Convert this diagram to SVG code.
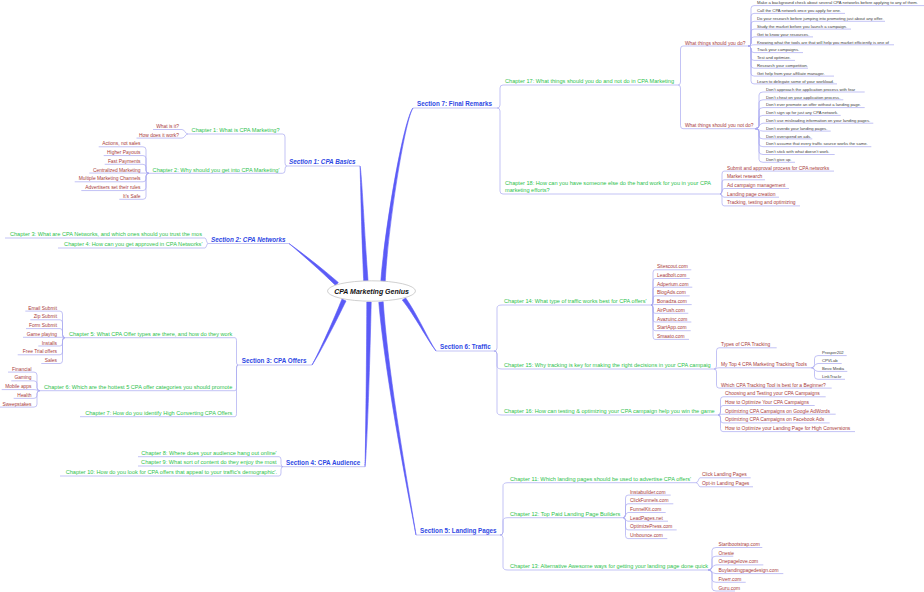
<svg xmlns="http://www.w3.org/2000/svg" width="924" height="592" viewBox="0 0 924 592">
<style>
.u{stroke:#a9a9f0;stroke-width:0.7;fill:none}
.c{stroke:#a9a9f0;stroke-width:0.7;fill:none}
.br{fill:#5b5bf7;stroke:#5b5bf7;stroke-width:0.6}
text{font-family:"Liberation Sans",Arial,sans-serif}
.sec{font-size:6.3px;font-weight:bold;fill:#2f48e4}
.it{font-style:italic}
.ch{font-size:5.6px;fill:#2cbf4c}
.lf{font-size:4.9px;fill:#a83a3a}
.gr{font-size:4.2px;fill:#3c3c3c}
.e{text-anchor:end}
.ctr{font-size:7px;font-weight:bold;font-style:italic;fill:#111;text-anchor:middle}
</style>
<rect width="924" height="592" fill="#fff"/>
<g id="connectors">
<g id="main-branches">
<path class="br" d="M368.2,283 C364.5,235 361.6,171 360,166 C360.4,171 361.5,235 363.8,283 Z"/>
<path class="br" d="M385.2,282.4 C387.5,230.3 404.6,120.1 413,108 C403.4,119.9 384.5,229.7 380.8,281.6 Z"/>
<path class="br" d="M338.3,282.5 C322.9,268.9 300.3,251.6 289,243.5 C299.7,252.4 321.1,271.1 335.7,285.5 Z"/>
<path class="br" d="M342,299 C334.7,317.3 319.5,351.7 312,365 C320.5,352.3 337.3,318.7 346,301 Z"/>
<path class="br" d="M366.8,302 C366.5,380 365.4,455 365,466.7 C366.6,455 369.5,380 371.2,302 Z"/>
<path class="br" d="M378.8,302.3 C385.5,380.2 409.4,500.1 416,535 C410.6,499.9 388.5,379.8 383.2,301.7 Z"/>
<path class="br" d="M402.3,300 C414.8,315.7 427.6,340.3 436,351 C428.4,339.7 417.2,314.3 405.7,298 Z"/>
</g>
<g id="sub-links">
<path class="c" d="M497,108Q500,108 500,105V88Q500,85 503,85"/>
<path class="c" d="M497,108Q500,108 500,111V191Q500,194 503,194"/>
<path class="c" d="M678,85Q680.5,85 680.5,82V49Q680.5,46 683,46"/>
<path class="c" d="M678,85Q680.5,85 680.5,88V125.7Q680.5,128.7 683,128.7"/>
<path class="c" d="M748,46Q751,46 751,43V8.6Q751,5.6 754,5.6"/>
<path class="c" d="M748,46Q751,46 751,43V16.4Q751,13.4 754,13.4"/>
<path class="c" d="M748,46Q751,46 751,43V24.3Q751,21.3 754,21.3"/>
<path class="c" d="M748,46Q751,46 751,43V32.1Q751,29.1 754,29.1"/>
<path class="c" d="M748,46Q751,46 751,43V39.9Q751,36.9 754,36.9"/>
<path class="c" d="M748,46C751,46 751,44.8 754,44.8"/>
<path class="c" d="M748,46Q751,46 751,49V49.6Q751,52.6 754,52.6"/>
<path class="c" d="M748,46Q751,46 751,49V57.4Q751,60.4 754,60.4"/>
<path class="c" d="M748,46Q751,46 751,49V65.2Q751,68.2 754,68.2"/>
<path class="c" d="M748,46Q751,46 751,49V73.1Q751,76.1 754,76.1"/>
<path class="c" d="M748,46Q751,46 751,49V80.9Q751,83.9 754,83.9"/>
<path class="c" d="M755,128.7Q759,128.7 759,125.7V95Q759,92 763,92"/>
<path class="c" d="M755,128.7Q759,128.7 759,125.7V102.8Q759,99.8 763,99.8"/>
<path class="c" d="M755,128.7Q759,128.7 759,125.7V110.6Q759,107.6 763,107.6"/>
<path class="c" d="M755,128.7Q759,128.7 759,125.7V118.4Q759,115.4 763,115.4"/>
<path class="c" d="M755,128.7C759,128.7 759,123.2 763,123.2"/>
<path class="c" d="M755,128.7C759,128.7 759,131.1 763,131.1"/>
<path class="c" d="M755,128.7Q759,128.7 759,131.7V135.9Q759,138.9 763,138.9"/>
<path class="c" d="M755,128.7Q759,128.7 759,131.7V143.7Q759,146.7 763,146.7"/>
<path class="c" d="M755,128.7Q759,128.7 759,131.7V151.5Q759,154.5 763,154.5"/>
<path class="c" d="M755,128.7Q759,128.7 759,131.7V159.3Q759,162.3 763,162.3"/>
<path class="c" d="M720,194Q722,194 722,191V174.1Q722,171.1 724,171.1"/>
<path class="c" d="M720,194Q722,194 722,191V182.8Q722,179.8 724,179.8"/>
<path class="c" d="M720,194C722,194 722,188.5 724,188.5"/>
<path class="c" d="M720,194C722,194 722,197.2 724,197.2"/>
<path class="c" d="M720,194Q722,194 722,197V202.9Q722,205.9 724,205.9"/>
<path class="c" d="M494,351Q497,351 497,348V308Q497,305 502,305"/>
<path class="c" d="M494,351Q497,351 497,354V366Q497,369 502,369"/>
<path class="c" d="M494,351Q497,351 497,354V412Q497,415 502,415"/>
<path class="c" d="M651,305Q653,305 653,302V272.8Q653,269.8 655,269.8"/>
<path class="c" d="M651,305Q653,305 653,302V281.5Q653,278.5 655,278.5"/>
<path class="c" d="M651,305Q653,305 653,302V290.2Q653,287.2 655,287.2"/>
<path class="c" d="M651,305Q653,305 653,302V298.9Q653,295.9 655,295.9"/>
<path class="c" d="M651,305C653,305 653,304.6 655,304.6"/>
<path class="c" d="M651,305Q653,305 653,308V310.3Q653,313.3 655,313.3"/>
<path class="c" d="M651,305Q653,305 653,308V319Q653,322 655,322"/>
<path class="c" d="M651,305Q653,305 653,308V327.7Q653,330.7 655,330.7"/>
<path class="c" d="M651,305Q653,305 653,308V336.4Q653,339.4 655,339.4"/>
<path class="c" d="M714,369Q716.5,369 716.5,366V350.8Q716.5,347.8 719,347.8"/>
<path class="c" d="M714,369C716.5,369 716.5,367.8 719,367.8"/>
<path class="c" d="M714,369Q716.5,369 716.5,372V385.1Q716.5,388.1 719,388.1"/>
<path class="c" d="M811.5,367.8Q814.5,367.8 814.5,364.8V358.6Q814.5,355.6 818,355.6"/>
<path class="c" d="M811.5,367.8C814.5,367.8 814.5,363.5 818,363.5"/>
<path class="c" d="M811.5,367.8C814.5,367.8 814.5,371.4 818,371.4"/>
<path class="c" d="M811.5,367.8Q814.5,367.8 814.5,370.8V376.3Q814.5,379.3 818,379.3"/>
<path class="c" d="M718,415Q720.5,415 720.5,412V399.8Q720.5,396.8 723,396.8"/>
<path class="c" d="M718,415Q720.5,415 720.5,412V408.5Q720.5,405.5 723,405.5"/>
<path class="c" d="M718,415C720.5,415 720.5,414.2 723,414.2"/>
<path class="c" d="M718,415Q720.5,415 720.5,418V419.9Q720.5,422.9 723,422.9"/>
<path class="c" d="M718,415Q720.5,415 720.5,418V428.6Q720.5,431.6 723,431.6"/>
<path class="c" d="M500,535Q503,535 503,532V485.7Q503,482.7 508,482.7"/>
<path class="c" d="M500,535Q503,535 503,532V520.7Q503,517.7 508,517.7"/>
<path class="c" d="M500,535Q503,535 503,538V567Q503,570 508,570"/>
<path class="c" d="M696,482.7C698.5,482.7 698.5,477.8 700,477.8"/>
<path class="c" d="M696,482.7C698.5,482.7 698.5,486.8 700,486.8"/>
<path class="c" d="M623,517.7Q625.5,517.7 625.5,514.7V498.1Q625.5,495.1 628,495.1"/>
<path class="c" d="M623,517.7Q625.5,517.7 625.5,514.7V506.8Q625.5,503.8 628,503.8"/>
<path class="c" d="M623,517.7C625.5,517.7 625.5,512.5 628,512.5"/>
<path class="c" d="M623,517.7C625.5,517.7 625.5,521.2 628,521.2"/>
<path class="c" d="M623,517.7Q625.5,517.7 625.5,520.7V526.9Q625.5,529.9 628,529.9"/>
<path class="c" d="M623,517.7Q625.5,517.7 625.5,520.7V535.6Q625.5,538.6 628,538.6"/>
<path class="c" d="M708,570Q712,570 712,567V550.5Q712,547.5 716,547.5"/>
<path class="c" d="M708,570Q712,570 712,567V559.2Q712,556.2 716,556.2"/>
<path class="c" d="M708,570C712,570 712,564.9 716,564.9"/>
<path class="c" d="M708,570C712,570 712,573.6 716,573.6"/>
<path class="c" d="M708,570Q712,570 712,573V579.3Q712,582.3 716,582.3"/>
<path class="c" d="M708,570Q712,570 712,573V588Q712,591 716,591"/>
<path class="c" d="M287,166Q285,166 285,163V137Q285,134 282.5,134"/>
<path class="c" d="M287,166Q285,166 285,169V170.3Q285,173.3 282.5,173.3"/>
<path class="c" d="M188,134C185,134 185,129.5 182,129.5"/>
<path class="c" d="M188,134C185,134 185,138.1 182,138.1"/>
<path class="c" d="M149,173.3Q146,173.3 146,170.3V149.8Q146,146.8 143,146.8"/>
<path class="c" d="M149,173.3Q146,173.3 146,170.3V158.55Q146,155.55 143,155.55"/>
<path class="c" d="M149,173.3Q146,173.3 146,170.3V167.3Q146,164.3 143,164.3"/>
<path class="c" d="M149,173.3C146,173.3 146,173.05 143,173.05"/>
<path class="c" d="M149,173.3Q146,173.3 146,176.3V178.8Q146,181.8 143,181.8"/>
<path class="c" d="M149,173.3Q146,173.3 146,176.3V187.55Q146,190.55 143,190.55"/>
<path class="c" d="M149,173.3Q146,173.3 146,176.3V196.3Q146,199.3 143,199.3"/>
<path class="c" d="M208,243.5C206.5,243.5 206.5,238 205,238"/>
<path class="c" d="M208,243.5C206.5,243.5 206.5,248 205,248"/>
<path class="c" d="M238,365Q236.5,365 236.5,362V340.7Q236.5,337.7 235,337.7"/>
<path class="c" d="M238,365Q236.5,365 236.5,368V387.7Q236.5,390.7 235,390.7"/>
<path class="c" d="M238,365Q236.5,365 236.5,368V413.7Q236.5,416.7 235,416.7"/>
<path class="c" d="M65,337.7Q62.5,337.7 62.5,334.7V314.1Q62.5,311.1 60,311.1"/>
<path class="c" d="M65,337.7Q62.5,337.7 62.5,334.7V322.8Q62.5,319.8 60,319.8"/>
<path class="c" d="M65,337.7Q62.5,337.7 62.5,334.7V331.6Q62.5,328.6 60,328.6"/>
<path class="c" d="M65,337.7C62.5,337.7 62.5,337.3 60,337.3"/>
<path class="c" d="M65,337.7Q62.5,337.7 62.5,340.7V343Q62.5,346 60,346"/>
<path class="c" d="M65,337.7Q62.5,337.7 62.5,340.7V351.8Q62.5,354.8 60,354.8"/>
<path class="c" d="M65,337.7Q62.5,337.7 62.5,340.7V360.5Q62.5,363.5 60,363.5"/>
<path class="c" d="M40,390.7Q37,390.7 37,387.7V375.1Q37,372.1 34,372.1"/>
<path class="c" d="M40,390.7Q37,390.7 37,387.7V383.85Q37,380.85 34,380.85"/>
<path class="c" d="M40,390.7C37,390.7 37,389.6 34,389.6"/>
<path class="c" d="M40,390.7Q37,390.7 37,393.7V395.35Q37,398.35 34,398.35"/>
<path class="c" d="M40,390.7Q37,390.7 37,393.7V404.1Q37,407.1 34,407.1"/>
<path class="c" d="M283,466.7Q281,466.7 281,463.7V459.7Q281,456.7 279,456.7"/>
<path class="c" d="M283,466.7C281,466.7 281,466 279,466"/>
<path class="c" d="M283,466.7Q281,466.7 281,469.7V473Q281,476 279,476"/>
</g>
</g>

<g id="n-center">
<ellipse cx="371.5" cy="291" rx="44" ry="10.2" fill="#fff" stroke="#c4c4c4" stroke-width="0.8"/>
<text class="ctr" x="371.5" y="293.5">CPA Marketing Genius</text>
</g>

<!-- Section 7 -->
<g id="n-s7"><text class="sec" x="417" y="106">Section 7: Final Remarks</text><path class="u" d="M413,108H497"/></g>
<g id="n-ch17"><text class="ch" x="505" y="83.2">Chapter 17: What things should you do and not do in CPA Marketing</text><path class="u" d="M503,85H678"/></g>
<g id="n-ch18"><text class="ch" x="505" y="184.8">Chapter 18: How can you have someone else do the hard work for you in your CPA<tspan x="505" y="192.2">marketing efforts?</tspan></text><path class="u" d="M503,194H720"/></g>
<g id="n-do"><text class="lf" x="685" y="44.5">What things should you do?</text><path class="u" d="M683,46H748"/></g>
<g id="n-notdo"><text class="lf" x="685" y="127.2">What things should you not do?</text><path class="u" d="M683,128.7H755"/></g>
<g id="n-do-items">
<g id="n-do1"><text class="gr" x="757" y="4.3">Make a background check about several CPA networks before applying to any of them.</text><path class="u" d="M754,5.6H924"/></g>
<g id="n-do2"><text class="gr" x="757" y="12.1">Call the CPA network once you apply for one.</text><path class="u" d="M754,13.4H845"/></g>
<g id="n-do3"><text class="gr" x="757" y="20">Do your research before jumping into promoting just about any offer.</text><path class="u" d="M754,21.3H885"/></g>
<g id="n-do4"><text class="gr" x="757" y="27.8">Study the market before you launch a campaign.</text><path class="u" d="M754,29.1H851"/></g>
<g id="n-do5"><text class="gr" x="757" y="35.6">Get to know your resources.</text><path class="u" d="M754,36.9H813"/></g>
<g id="n-do6"><text class="gr" x="757" y="43.5">Knowing what the tools are that will help you market efficiently is one of</text><path class="u" d="M754,44.8H894"/></g>
<g id="n-do7"><text class="gr" x="757" y="51.3">Track your campaigns.</text><path class="u" d="M754,52.6H803"/></g>
<g id="n-do8"><text class="gr" x="757" y="59.1">Test and optimize.</text><path class="u" d="M754,60.4H795"/></g>
<g id="n-do9"><text class="gr" x="757" y="66.9">Research your competition.</text><path class="u" d="M754,68.2H808"/></g>
<g id="n-do10"><text class="gr" x="757" y="74.8">Get help from your affiliate manager.</text><path class="u" d="M754,76.1H834"/></g>
<g id="n-do11"><text class="gr" x="757" y="82.6">Learn to delegate some of your workload.</text><path class="u" d="M754,83.9H837"/></g>
</g>
<g id="n-notdo-items">
<g id="n-nd1"><text class="gr" x="766" y="90.7">Don't approach the application process with fear</text><path class="u" d="M763,92H864.7"/></g>
<g id="n-nd2"><text class="gr" x="766" y="98.5">Don't cheat on your application process.</text><path class="u" d="M763,99.8H843.3"/></g>
<g id="n-nd3"><text class="gr" x="766" y="106.3">Don't ever promote an offer without a landing page.</text><path class="u" d="M763,107.6H864.7"/></g>
<g id="n-nd4"><text class="gr" x="766" y="114.1">Don't sign up for just any CPA network.</text><path class="u" d="M763,115.4H840.7"/></g>
<g id="n-nd5"><text class="gr" x="766" y="121.9">Don't use misleading information on your landing pages.</text><path class="u" d="M763,123.2H873.3"/></g>
<g id="n-nd6"><text class="gr" x="766" y="129.8">Don't overdo your landing pages.</text><path class="u" d="M763,131.1H830.7"/></g>
<g id="n-nd7"><text class="gr" x="766" y="137.6">Don't overspend on ads.</text><path class="u" d="M763,138.9H812.3"/></g>
<g id="n-nd8"><text class="gr" x="766" y="145.4">Don't assume that every traffic source works the same.</text><path class="u" d="M763,146.7H871.3"/></g>
<g id="n-nd9"><text class="gr" x="766" y="153.2">Don't stick with what doesn't work.</text><path class="u" d="M763,154.5H834.7"/></g>
<g id="n-nd10"><text class="gr" x="766" y="161">Don't give up.</text><path class="u" d="M763,162.3H795"/></g>
</g>
<g id="n-ch18-items">
<g id="n-c18a"><text class="lf" x="727" y="169.6">Submit and approval process for CPA networks</text><path class="u" d="M724,171.1H834"/></g>
<g id="n-c18b"><text class="lf" x="727" y="178.3">Market research</text><path class="u" d="M724,179.8H765"/></g>
<g id="n-c18c"><text class="lf" x="727" y="187">Ad campaign management</text><path class="u" d="M724,188.5H789"/></g>
<g id="n-c18d"><text class="lf" x="727" y="195.7">Landing page creation</text><path class="u" d="M724,197.2H779"/></g>
<g id="n-c18e"><text class="lf" x="727" y="204.4">Tracking, testing and optimizing</text><path class="u" d="M724,205.9H800"/></g>
</g>

<!-- Section 6 -->
<g id="n-s6"><text class="sec" x="440" y="349">Section 6: Traffic</text><path class="u" d="M436,351H494"/></g>
<g id="n-ch14"><text class="ch" x="504" y="303.2">Chapter 14: What type of traffic works best for CPA offers'</text><path class="u" d="M502,305H651"/></g>
<g id="n-ch15"><text class="ch" x="504" y="367.2">Chapter 15: Why tracking is key for making the right decisions in your CPA campaig</text><path class="u" d="M502,369H714"/></g>
<g id="n-ch16"><text class="ch" x="504" y="413.2">Chapter 16: How can testing &amp; optimizing your CPA campaign help you win the game</text><path class="u" d="M502,415H718"/></g>
<g id="n-ch14-items">
<g id="n-t1"><text class="lf" x="657" y="268.3">Sitescout.com</text><path class="u" d="M655,269.8H691.3"/></g>
<g id="n-t2"><text class="lf" x="657" y="277">Leadbolt.com</text><path class="u" d="M655,278.5H689.7"/></g>
<g id="n-t3"><text class="lf" x="657" y="285.7">Adperium.com</text><path class="u" d="M655,287.2H692.3"/></g>
<g id="n-t4"><text class="lf" x="657" y="294.4">BlogAds.com</text><path class="u" d="M655,295.9H689.7"/></g>
<g id="n-t5"><text class="lf" x="657" y="303.1">Bonadza.com</text><path class="u" d="M655,304.6H691.7"/></g>
<g id="n-t6"><text class="lf" x="657" y="311.8">AirPush.com</text><path class="u" d="M655,313.3H688.3"/></g>
<g id="n-t7"><text class="lf" x="657" y="320.5">Avazuinc.com</text><path class="u" d="M655,322H691.3"/></g>
<g id="n-t8"><text class="lf" x="657" y="329.2">StartApp.com</text><path class="u" d="M655,330.7H690.7"/></g>
<g id="n-t9"><text class="lf" x="657" y="337.9">Smaato.com</text><path class="u" d="M655,339.4H689"/></g>
</g>
<g id="n-ch15-items">
<g id="n-k1"><text class="lf" x="721" y="346.3">Types of CPA Tracking</text><path class="u" d="M719,347.8H776.7"/></g>
<g id="n-k2"><text class="lf" x="721" y="366.3">My Top 4 CPA Marketing Tracking Tools</text><path class="u" d="M719,367.8H811.5"/></g>
<g id="n-k3"><text class="lf" x="721" y="386.6">Which CPA Tracking Tool is best for a Beginner?</text><path class="u" d="M719,388.1H831.7"/></g>
<g id="n-tool1"><text class="gr" x="822" y="354.3">Prosper202</text><path class="u" d="M818,355.6H846.7"/></g>
<g id="n-tool2"><text class="gr" x="822" y="362.2">CPVLab</text><path class="u" d="M818,363.5H841.7"/></g>
<g id="n-tool3"><text class="gr" x="822" y="370.1">Bevo Media</text><path class="u" d="M818,371.4H847.3"/></g>
<g id="n-tool4"><text class="gr" x="822" y="378">LinkTrackr</text><path class="u" d="M818,379.3H845"/></g>
</g>
<g id="n-ch16-items">
<g id="n-o1"><text class="lf" x="725" y="395.3">Choosing and Testing your CPA Campaigns</text><path class="u" d="M723,396.8H825.7"/></g>
<g id="n-o2"><text class="lf" x="725" y="404">How to Optimize Your CPA Campaigns</text><path class="u" d="M723,405.5H814.7"/></g>
<g id="n-o3"><text class="lf" x="725" y="412.7">Optimizing CPA Campaigns on Google AdWords</text><path class="u" d="M723,414.2H835.7"/></g>
<g id="n-o4"><text class="lf" x="725" y="421.4">Optimizing CPA Campaigns on Facebook Ads</text><path class="u" d="M723,422.9H829.7"/></g>
<g id="n-o5"><text class="lf" x="725" y="430.1">How to Optimize your Landing Page for High Conversions</text><path class="u" d="M723,431.6H855"/></g>
</g>

<!-- Section 5 -->
<g id="n-s5"><text class="sec" x="420" y="533">Section 5: Landing Pages</text><path class="u" d="M416,535H500"/></g>
<g id="n-ch11"><text class="ch" x="510" y="480.9">Chapter 11: Which landing pages should be used to advertise CPA offers'</text><path class="u" d="M508,482.7H696"/></g>
<g id="n-ch12"><text class="ch" x="510" y="515.9">Chapter 12: Top Paid Landing Page Builders</text><path class="u" d="M508,517.7H623"/></g>
<g id="n-ch13"><text class="ch" x="510" y="568.2">Chapter 13: Alternative Awesome ways for getting your landing page done quick</text><path class="u" d="M508,570H708"/></g>
<g id="n-ch11-items">
<g id="n-l1"><text class="lf" x="702" y="476.3">Click Landing Pages</text><path class="u" d="M700,477.8H750.7"/></g>
<g id="n-l2"><text class="lf" x="702" y="485.3">Opt-in Landing Pages</text><path class="u" d="M700,486.8H753"/></g>
</g>
<g id="n-ch12-items">
<g id="n-b1"><text class="lf" x="630" y="493.6">Instabuilder.com</text><path class="u" d="M628,495.1H670.7"/></g>
<g id="n-b2"><text class="lf" x="630" y="502.3">ClickFunnels.com</text><path class="u" d="M628,503.8H673.3"/></g>
<g id="n-b3"><text class="lf" x="630" y="511">FunnelKit.com</text><path class="u" d="M628,512.5H665.7"/></g>
<g id="n-b4"><text class="lf" x="630" y="519.7">LeadPages.net</text><path class="u" d="M628,521.2H668"/></g>
<g id="n-b5"><text class="lf" x="630" y="528.4">OptimizePress.com</text><path class="u" d="M628,529.9H676.7"/></g>
<g id="n-b6"><text class="lf" x="630" y="537.1">Unbounce.com</text><path class="u" d="M628,538.6H667.3"/></g>
</g>
<g id="n-ch13-items">
<g id="n-a1"><text class="lf" x="718.5" y="546">Startbootstrap.com</text><path class="u" d="M716,547.5H762.3"/></g>
<g id="n-a2"><text class="lf" x="718.5" y="554.7">Onesie</text><path class="u" d="M716,556.2H733.3"/></g>
<g id="n-a3"><text class="lf" x="718.5" y="563.4">Onepagelove.com</text><path class="u" d="M716,564.9H763.3"/></g>
<g id="n-a4"><text class="lf" x="718.5" y="572.1">Buylandingpagedesign.com</text><path class="u" d="M716,573.6H783.3"/></g>
<g id="n-a5"><text class="lf" x="718.5" y="580.8">Fiverr.com</text><path class="u" d="M716,582.3H745.7"/></g>
<g id="n-a6"><text class="lf" x="718.5" y="589.5">Guru.com</text><path class="u" d="M716,591H735"/></g>
</g>

<!-- Section 1 -->
<g id="n-s1"><text class="sec it" x="289" y="164">Section 1: CPA Basics</text><path class="u" d="M287,166H360"/></g>
<g id="n-ch1"><text class="ch e" x="279.5" y="132.2">Chapter 1: What is CPA Marketing?</text><path class="u" d="M188,134H282.5"/></g>
<g id="n-ch2"><text class="ch e" x="279.5" y="171.5">Chapter 2: Why should you get into CPA Marketing'</text><path class="u" d="M149,173.3H282.5"/></g>
<g id="n-ch1-items">
<g id="n-w1"><text class="lf e" x="179" y="128">What is it?</text><path class="u" d="M153,129.5H182"/></g>
<g id="n-w2"><text class="lf e" x="179" y="136.6">How does it work?</text><path class="u" d="M136.5,138.1H182"/></g>
</g>
<g id="n-ch2-items">
<g id="n-y1"><text class="lf e" x="140.5" y="145.3">Actions, not sales</text><path class="u" d="M98.7,146.8H143"/></g>
<g id="n-y2"><text class="lf e" x="140.5" y="154.05">Higher Payouts</text><path class="u" d="M103.7,155.55H143"/></g>
<g id="n-y3"><text class="lf e" x="140.5" y="162.8">Fast Payments</text><path class="u" d="M104.7,164.3H143"/></g>
<g id="n-y4"><text class="lf e" x="140.5" y="171.55">Centralized Marketing</text><path class="u" d="M89.3,173.05H143"/></g>
<g id="n-y5"><text class="lf e" x="140.5" y="180.3">Multiple Marketing Channels</text><path class="u" d="M74.7,181.8H143"/></g>
<g id="n-y6"><text class="lf e" x="140.5" y="189.05">Advertisers set their rules</text><path class="u" d="M81.3,190.55H143"/></g>
<g id="n-y7"><text class="lf e" x="140.5" y="197.8">It's Safe</text><path class="u" d="M119.3,199.3H143"/></g>
</g>

<!-- Section 2 -->
<g id="n-s2"><text class="sec it" x="211" y="241.5">Section 2: CPA Networks</text><path class="u" d="M208,243.5H289"/></g>
<g id="n-ch3"><text class="ch e" x="202" y="236.2">Chapter 3: What are CPA Networks, and which ones should you trust the mos</text><path class="u" d="M5,238H205"/></g>
<g id="n-ch4"><text class="ch e" x="202.5" y="246.2">Chapter 4: How can you get approved in CPA Networks'</text><path class="u" d="M58,248H205"/></g>

<!-- Section 3 -->
<g id="n-s3"><text class="sec" x="241.7" y="363">Section 3: CPA Offers</text><path class="u" d="M238,365H312"/></g>
<g id="n-ch5"><text class="ch e" x="232.3" y="335.9">Chapter 5: What CPA Offer types are there, and how do they work</text><path class="u" d="M65,337.7H235"/></g>
<g id="n-ch6"><text class="ch e" x="232.3" y="388.9">Chapter 6: Which are the hottest 5 CPA offer categories you should promote</text><path class="u" d="M40,390.7H235"/></g>
<g id="n-ch7"><text class="ch e" x="232.3" y="414.9">Chapter 7: How do you identify High Converting CPA Offers</text><path class="u" d="M80,416.7H235"/></g>
<g id="n-ch5-items">
<g id="n-f1"><text class="lf e" x="57" y="309.6">Email Submit</text><path class="u" d="M25.3,311.1H60"/></g>
<g id="n-f2"><text class="lf e" x="57" y="318.3">Zip Submit</text><path class="u" d="M30.3,319.8H60"/></g>
<g id="n-f3"><text class="lf e" x="57" y="327.1">Form Submit</text><path class="u" d="M26,328.6H60"/></g>
<g id="n-f4"><text class="lf e" x="57" y="335.8">Game playing</text><path class="u" d="M23,337.3H60"/></g>
<g id="n-f5"><text class="lf e" x="57" y="344.5">Installs</text><path class="u" d="M38.3,346H60"/></g>
<g id="n-f6"><text class="lf e" x="57" y="353.3">Free Trial offers</text><path class="u" d="M17.7,354.8H60"/></g>
<g id="n-f7"><text class="lf e" x="57" y="362">Sales</text><path class="u" d="M41.3,363.5H60"/></g>
</g>
<g id="n-ch6-items">
<g id="n-g1"><text class="lf e" x="31.5" y="370.6">Financial</text><path class="u" d="M8,372.1H34"/></g>
<g id="n-g2"><text class="lf e" x="31.5" y="379.35">Gaming</text><path class="u" d="M11.3,380.85H34"/></g>
<g id="n-g3"><text class="lf e" x="31.5" y="388.1">Mobile apps</text><path class="u" d="M1.7,389.6H34"/></g>
<g id="n-g4"><text class="lf e" x="31.5" y="396.85">Health</text><path class="u" d="M13.7,398.35H34"/></g>
<g id="n-g5"><text class="lf e" x="31.5" y="405.6">Sweepstakes</text><path class="u" d="M0,407.1H34"/></g>
</g>

<!-- Section 4 -->
<g id="n-s4"><text class="sec" x="286" y="464.7">Section 4: CPA Audience</text><path class="u" d="M283,466.7H365"/></g>
<g id="n-ch8"><text class="ch e" x="276.7" y="454.9">Chapter 8: Where does your audience hang out online'</text><path class="u" d="M138,456.7H279"/></g>
<g id="n-ch9"><text class="ch e" x="276.7" y="464.2">Chapter 9: What sort of content do they enjoy the most</text><path class="u" d="M138,466H279"/></g>
<g id="n-ch10"><text class="ch e" x="277.2" y="474.2">Chapter 10: How do you look for CPA offers that appeal to your traffic’s demographic'.</text><path class="u" d="M60,476H279"/></g>
</svg>
